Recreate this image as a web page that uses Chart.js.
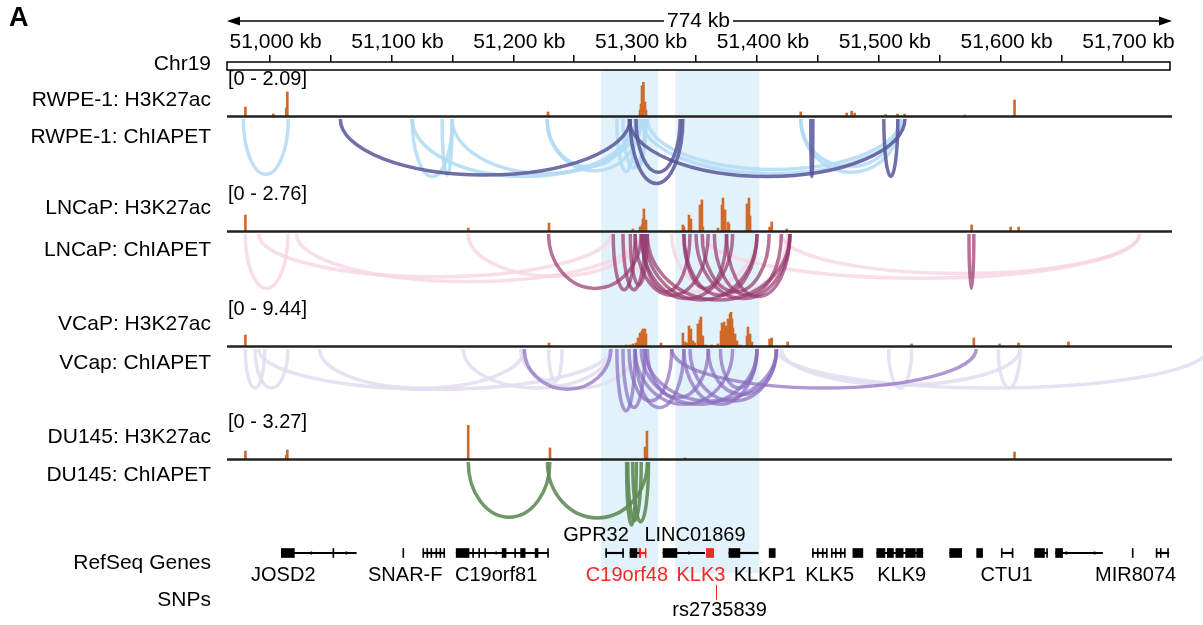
<!DOCTYPE html>
<html>
<head>
<meta charset="utf-8">
<script src="https://cdn.jsdelivr.net/npm/chart.js@4.4.1/dist/chart.umd.min.js"></script>
<style>
  html, body { margin: 0; padding: 0; background: #fff; }
  canvas { display: block; }
</style>
</head>
<body>
<canvas id="browser" width="1203" height="625"></canvas>
<script>
const FONT = "'Liberation Sans', Arial, sans-serif";

// --- genomic window (kb) ---
const XMIN = 50965, XMAX = 51739;
const TICK_KB = [51000, 51050, 51100, 51150, 51200, 51250, 51300, 51350, 51400, 51450, 51500, 51550, 51600, 51650, 51700];
const SPAN_LABEL = '774 kb';
const HIGHLIGHTS = [[51272, 51319], [51333, 51402]];

// --- H3K27ac signal, [kb, value] ---
const RANGE_MAX = [2.09, 2.76, 9.44, 3.27];
const RWPE_H3K27AC = [
  [50980.1, 0.55], [51003.0, 0.12], [51013.7, 0.5], [51014.5, 1.48], [51228.5, 0.25],
  [51304.0, 0.37], [51304.8, 0.74], [51305.6, 1.85], [51306.8, 2.09], [51308.1, 0.86], [51308.9, 0.37],
  [51435.9, 0.25], [51473.6, 0.18], [51477.7, 0.3], [51480.2, 0.18], [51505.6, 0.09],
  [51515.4, 0.12], [51521.2, 0.12], [51570.4, 0.06], [51611.4, 0.98]
];
const LNCAP_H3K27AC = [
  [50980.1, 1.3], [51163.0, 0.24], [51229.3, 0.65], [51298.2, 0.16], [51304.0, 0.32],
  [51305.6, 0.49], [51306.4, 0.97], [51307.2, 1.79], [51308.9, 0.89], [51339.2, 0.49],
  [51340.1, 0.32], [51344.2, 1.3], [51345.8, 0.97], [51353.2, 2.11], [51354.8, 2.52],
  [51355.6, 0.32], [51368.0, 0.24], [51371.3, 2.11], [51372.1, 2.68], [51373.8, 1.71],
  [51376.2, 0.73], [51377.0, 0.57], [51391.8, 2.19], [51393.4, 2.68], [51394.3, 1.22],
  [51410.4, 0.32], [51412.1, 0.73], [51424.4, 0.16], [51576.2, 0.49], [51608.2, 0.32], [51614.7, 0.32]
];
const VCAP_H3K27AC = [
  [50980.1, 3.05], [51229.3, 0.83], [51292.5, 0.28], [51295.8, 0.28], [51298.2, 0.56],
  [51300.7, 0.83], [51302.3, 2.22], [51304.0, 3.61], [51305.6, 4.16], [51306.4, 4.72],
  [51308.1, 4.72], [51308.9, 3.33], [51321.2, 0.83], [51339.2, 3.61], [51340.9, 1.11],
  [51342.5, 0.83], [51344.2, 5.55], [51345.8, 4.72], [51347.5, 1.39], [51349.1, 0.83],
  [51351.5, 6.11], [51353.2, 7.22], [51354.0, 8.05], [51355.6, 2.78], [51358.1, 0.28],
  [51363.0, 0.28], [51368.0, 0.56], [51370.5, 4.16], [51371.3, 6.38], [51373.0, 6.66],
  [51374.6, 5.55], [51376.2, 7.5], [51377.9, 8.88], [51378.7, 9.44], [51379.5, 7.5],
  [51380.3, 5.0], [51382.0, 3.33], [51383.6, 1.39], [51386.1, 0.28], [51391.8, 2.78],
  [51392.6, 5.27], [51394.3, 3.33], [51395.9, 1.11], [51410.4, 1.94], [51412.1, 2.22],
  [51425.2, 1.11], [51526.9, 0.56], [51578.0, 2.22], [51599.1, 0.56], [51614.7, 0.83], [51655.7, 1.11]
];
const DU145_H3K27AC = [
  [50980.1, 0.77], [51013.7, 0.38], [51014.5, 0.87], [51163.0, 3.27], [51230.1, 1.06],
  [51308.1, 1.15], [51309.7, 2.69], [51340.9, 0.1], [51611.4, 0.67]
];

// --- ChIA-PET loops, [startKb, endKb, depth 0..1] ---
const RWPE_LOOPS_WEAK = [
  [50978.4, 51015.3, 0.79], [51117, 51150, 0.82], [51141.6, 51149.8, 0.8], [51117, 51300.7, 0.82],
  [51149.8, 51304, 0.78], [51227.7, 51296, 0.68], [51227.7, 51305, 0.74], [51285, 51300, 0.75],
  [51290, 51308, 0.7], [51296, 51309, 0.68], [51305, 51521.4, 0.78], [51310, 51518, 0.72],
  [51436, 51518, 0.76], [51436, 51516, 0.68]
];
const RWPE_LOOPS_STRONG = [
  [51058, 51295.8, 0.8], [51295.8, 51339.2, 0.92], [51300.7, 51337, 0.76], [51295, 51521.4, 0.82],
  [51444.2, 51445.9, 0.82], [51504.1, 51515.6, 0.82]
];
const LNCAP_LOOPS_WEAK = [
  [50980, 51015, 0.8], [50991, 51280, 0.63], [51022, 51305, 0.7], [51163, 51305, 0.62],
  [51290, 51400, 0.85], [51330, 51425, 0.9], [51355, 51714, 0.65], [51420, 51714, 0.58]
];
const LNCAP_LOOPS_STRONG = [
  [51229, 51305, 0.8], [51282, 51300, 0.82], [51290, 51308, 0.82], [51296, 51310, 0.75],
  [51300, 51360, 0.9], [51305, 51380, 0.95], [51308, 51400, 0.97], [51310, 51427, 0.97],
  [51306, 51345, 0.85], [51340, 51400, 0.9], [51340, 51375, 0.8], [51350, 51427, 0.95],
  [51355, 51410, 0.85], [51365, 51420, 0.9], [51375, 51427, 0.92], [51574, 51578, 0.8]
];
const VCAP_LOOPS_WEAK = [
  [50980, 50996, 0.6], [50988, 51015, 0.6], [50991, 51280, 0.62], [51041, 51209, 0.6],
  [51159, 51280, 0.6], [51206, 51300, 0.6], [51229, 51240, 0.5], [51508, 51527, 0.6],
  [51598, 51616, 0.6], [51416, 51770, 0.6], [51420, 51616, 0.55]
];
const VCAP_LOOPS_STRONG = [
  [51209, 51280, 0.62], [51285, 51300, 0.95], [51290, 51308, 0.9], [51295, 51330, 0.8],
  [51300, 51340, 0.9], [51300, 51380, 0.85], [51305, 51400, 0.85], [51308, 51416, 0.8],
  [51310, 51360, 0.75], [51340, 51400, 0.85], [51345, 51416, 0.8], [51360, 51416, 0.7],
  [51370, 51400, 0.6], [51330, 51580, 0.6]
];
const DU145_LOOPS = [
  [51163, 51230, 0.85], [51228, 51310, 0.86], [51293, 51301, 0.97], [51294, 51305, 0.9], [51298, 51311, 0.92]
];

// --- RefSeq genes (kb) ---
const GENE_LINES = [
  [51009.6, 51071.1], [51126.0, 51143.3], [51153.1, 51228.5], [51276.0, 51290.1], [51295.8, 51303.2],
  [51322.9, 51357.0], [51377.0, 51401.0], [51445.8, 51457.3], [51461.4, 51472.1], [51498.3, 51536.1],
  [51558.2, 51568.0], [51600.8, 51609.8], [51627.9, 51638.5], [51645.1, 51683.6], [51727.9, 51738.0]
];
const GENE_EXONS = [
  [51009.6, 51020.3], [51051.9, 51052.7], [51109.3, 51110.1], [51125.7, 51126.5], [51129.0, 51129.8],
  [51132.3, 51133.1], [51136.4, 51137.2], [51139.7, 51140.5], [51142.9, 51143.7], [51153.1, 51163.7],
  [51166.6, 51167.4], [51171.6, 51172.4], [51176.5, 51177.3], [51190.8, 51194.1], [51201.1, 51201.9],
  [51206.0, 51209.7], [51217.9, 51220.3], [51228.1, 51228.9], [51275.8, 51276.6], [51289.7, 51290.5],
  [51295.8, 51301.5], [51322.9, 51334.3], [51377.0, 51386.0], [51410.0, 51415.0], [51445.5, 51446.3],
  [51449.5, 51450.3], [51453.6, 51454.4], [51456.9, 51457.7], [51461.0, 51461.8], [51464.3, 51465.1],
  [51468.4, 51469.2], [51471.7, 51472.5], [51478.7, 51486.9], [51498.3, 51505.0], [51507.0, 51512.0],
  [51514.0, 51520.0], [51522.0, 51530.0], [51531.0, 51536.1], [51558.2, 51568.0], [51580.3, 51585.2],
  [51600.5, 51601.3], [51609.4, 51610.2], [51627.9, 51636.0], [51637.7, 51638.5], [51645.1, 51650.8],
  [51708.0, 51708.8], [51727.6, 51728.4], [51731.0, 51731.8], [51737.0, 51737.8]
];
const GENE_LINES_RED = [[51304.6, 51308.9]];
const GENE_EXONS_RED = [[51303.2, 51304.6], [51308.3, 51309.0], [51358.5, 51364.5]];
const GENE_UTR = [[51033.8, 51034.6], [51062.5, 51063.3], [51185.5, 51186.3], [51343.8, 51344.6], [51653.7, 51654.5], [51676.7, 51677.5]];
const GENE_NAMES = ['JOSD2', 'SNAR-F', 'C19orf81', 'C19orf48', 'KLK3', 'KLKP1', 'KLK5', 'KLK9', 'CTU1', 'MIR8074'];
const GENE_NAME_KB = [51011.2, 51111.3, 51185.9, 51293.3, 51354.0, 51406.4, 51459.7, 51518.8, 51604.9, 51710.8];
const GENE_NAMES_RED = ['C19orf48', 'KLK3'];
const UPPER_NAMES = ['GPR32', 'LINC01869'];
const UPPER_NAME_KB = [51267.9, 51349.1];
const SNP_NAMES = ['rs2735839'];
const SNP_KB = [51366.3];

const TRACK_LABELS = ['Chr19', 'RWPE-1: H3K27ac', 'RWPE-1: ChIAPET', 'LNCaP: H3K27ac', 'LNCaP: ChIAPET',
  'VCaP: H3K27ac', 'VCap: ChIAPET', 'DU145: H3K27ac', 'DU145: ChIAPET', 'RefSeq Genes', 'SNPs'];

// layout: vertical slots of the stacked y axes, [id, height px]
const SLOTS = [['ruler', 8], ['g1', 12], ['rwSig', 34], ['g2', 3], ['rwLoop', 70], ['g3', 8],
  ['lnSig', 34], ['g4', 3], ['lnLoop', 68], ['g5', 10], ['vcSig', 34], ['g6', 3], ['vcLoop', 65],
  ['g7', 11], ['duSig', 34], ['g8', 3], ['duLoop', 65], ['g9', 21], ['genes', 10], ['rest', 67]];
const SIG_AXES = ['rwSig', 'lnSig', 'vcSig', 'duSig'];
const LABEL_Y = [64, 100, 137, 208, 250, 324, 363, 437, 475, 563, 600];
const PEAK_COLOR = '#cf6a28';

const LOOP_TRACKS = [
  { axis: 'rwLoop', sets: [[RWPE_LOOPS_WEAK, 'rgba(178,219,245,0.85)'], [RWPE_LOOPS_STRONG, 'rgba(88,86,152,0.85)']] },
  { axis: 'lnLoop', sets: [[LNCAP_LOOPS_WEAK, 'rgba(246,214,227,0.8)'], [LNCAP_LOOPS_STRONG, 'rgba(150,55,108,0.7)']] },
  { axis: 'vcLoop', sets: [[VCAP_LOOPS_WEAK, 'rgba(226,221,240,0.85)'], [VCAP_LOOPS_STRONG, 'rgba(138,108,190,0.7)']] },
  { axis: 'duLoop', sets: [[DU145_LOOPS, 'rgba(96,140,86,0.9)']] }
];

const scales = {
  x: {
    type: 'linear', position: 'top', min: XMIN, max: XMAX, offset: false,
    afterFit: s => { s.height = 62; },
    afterBuildTicks: s => { s.ticks = TICK_KB.map(v => ({ value: v })); },
    grid: { drawOnChartArea: false, offset: false, tickLength: 7, color: '#000', lineWidth: 1.5 },
    border: { display: false },
    ticks: {
      autoSkip: false, maxRotation: 0, padding: 0, labelOffset: 6, color: '#000',
      font: { family: FONT, size: 21 },
      callback: v => (v % 100 === 0 ? v.toLocaleString('en-US') + ' kb' : '')
    }
  }
};
SLOTS.forEach(([id, h], i) => {
  const sig = SIG_AXES.indexOf(id);
  scales[id] = {
    type: 'linear', display: false, position: 'left', stack: 'tracks', stackWeight: h, weight: 100 - i,
    min: 0, max: sig >= 0 ? RANGE_MAX[sig] : 1, reverse: id.endsWith('Loop')
  };
});

function peakSet(arr, axis) {
  return { type: 'bar', yAxisID: axis, grouped: false, barThickness: 2, backgroundColor: PEAK_COLOR,
    data: arr.map(([kb, v]) => ({ x: kb, y: v })) };
}
function geneSet(arr, thick, color) {
  return { type: 'bar', indexAxis: 'y', yAxisID: 'genes', grouped: false, barThickness: thick,
    backgroundColor: color, data: arr.map(([s, e]) => ({ x: [s, e], y: 0.5 })) };
}

function label(ctx, str, px, py, align, color, size, weight) {
  ctx.font = (weight || 'normal') + ' ' + size + 'px ' + FONT;
  ctx.fillStyle = color;
  ctx.textAlign = align;
  ctx.textBaseline = 'middle';
  ctx.fillText(str, px, py);
}

const trackPlugin = {
  id: 'tracks',
  beforeDatasetsDraw(chart) {
    const { ctx, chartArea: area, scales: s } = chart;
    const x = s.x;
    ctx.save();
    // highlighted regions
    const top = s.ruler.bottom, bottom = s.genes.bottom + 15;
    ctx.fillStyle = '#e2f2fb';
    HIGHLIGHTS.forEach(([a, b]) => {
      const pa = x.getPixelForValue(a), pb = x.getPixelForValue(b);
      ctx.fillRect(pa, top, pb - pa, bottom - top);
    });
    // chromosome ruler box
    ctx.strokeStyle = '#000';
    ctx.lineWidth = 1.5;
    ctx.strokeRect(area.left, s.ruler.top, area.right - area.left, s.ruler.bottom - s.ruler.top);
    // loops as half ellipses
    LOOP_TRACKS.forEach(t => {
      const y = s[t.axis];
      const y0 = y.getPixelForValue(0);
      t.sets.forEach(([arcs, color]) => {
        ctx.strokeStyle = color;
        ctx.lineWidth = 3.5;
        arcs.forEach(([a, b, d]) => {
          const pa = x.getPixelForValue(a), pb = x.getPixelForValue(b);
          ctx.beginPath();
          ctx.ellipse((pa + pb) / 2, y0, Math.max(Math.abs(pb - pa) / 2, 0.5), y.getPixelForValue(d) - y0, 0, 0, Math.PI);
          ctx.stroke();
        });
      });
    });
    ctx.restore();
  },
  afterDatasetsDraw(chart) {
    const { ctx, chartArea: area, scales: s } = chart;
    ctx.save();
    ctx.strokeStyle = '#222';
    ctx.lineWidth = 2.5;
    SIG_AXES.forEach(id => {
      const y = Math.round(s[id].getPixelForValue(0)) + 0.5;
      ctx.beginPath();
      ctx.moveTo(area.left, y);
      ctx.lineTo(area.right + 2, y);
      ctx.stroke();
    });
    ctx.restore();
  },
  afterDraw(chart) {
    const { ctx, chartArea: area, scales: s } = chart;
    const x = s.x;
    ctx.save();
    label(ctx, 'A', 9, 19, 'left', '#000', 27, 'bold');
    // span arrow
    const ay = 21, L = x.getPixelForValue(XMIN), R = x.getPixelForValue(XMAX) + 2;
    ctx.strokeStyle = '#000';
    ctx.fillStyle = '#000';
    ctx.lineWidth = 1.5;
    ctx.beginPath(); ctx.moveTo(L + 4, ay); ctx.lineTo(R - 4, ay); ctx.stroke();
    ctx.beginPath(); ctx.moveTo(L, ay); ctx.lineTo(L + 13, ay - 4.5); ctx.lineTo(L + 13, ay + 4.5); ctx.fill();
    ctx.beginPath(); ctx.moveTo(R, ay); ctx.lineTo(R - 13, ay - 4.5); ctx.lineTo(R - 13, ay + 4.5); ctx.fill();
    ctx.font = '21px ' + FONT;
    const mid = (L + R) / 2 - 1, w = ctx.measureText(SPAN_LABEL).width;
    ctx.fillStyle = '#fff';
    ctx.fillRect(mid - w / 2 - 3, ay - 10, w + 6, 20);
    label(ctx, SPAN_LABEL, mid, ay, 'center', '#000', 21);
    // track names
    TRACK_LABELS.forEach((t, i) => label(ctx, t, 211, LABEL_Y[i], 'right', '#000', 21));
    // data ranges
    SIG_AXES.forEach((id, i) => label(ctx, '[0 - ' + RANGE_MAX[i].toFixed(2) + ']', area.left + 1, s[id].top - 3, 'left', '#000', 20));
    // gene names
    const gy = s.genes.getPixelForValue(0.5);
    GENE_NAMES.forEach((g, i) => label(ctx, g, x.getPixelForValue(GENE_NAME_KB[i]), gy + 22, 'center',
      GENE_NAMES_RED.includes(g) ? '#ee2a24' : '#000', 20));
    UPPER_NAMES.forEach((g, i) => label(ctx, g, x.getPixelForValue(UPPER_NAME_KB[i]), gy - 18, 'center', '#000', 20));
    // SNPs
    SNP_NAMES.forEach((n, i) => {
      const px = Math.round(x.getPixelForValue(SNP_KB[i])) + 0.5;
      ctx.strokeStyle = '#ee2a24';
      ctx.lineWidth = 1;
      ctx.beginPath(); ctx.moveTo(px, gy + 32); ctx.lineTo(px, gy + 47); ctx.stroke();
      label(ctx, n, px + 3, gy + 57, 'center', '#000', 20);
    });
    ctx.restore();
  }
};

new Chart(document.getElementById('browser'), {
  type: 'bar',
  data: {
    datasets: [
      peakSet(RWPE_H3K27AC, 'rwSig'),
      peakSet(LNCAP_H3K27AC, 'lnSig'),
      peakSet(VCAP_H3K27AC, 'vcSig'),
      peakSet(DU145_H3K27AC, 'duSig'),
      geneSet(GENE_LINES, 1.5, '#000'),
      geneSet(GENE_EXONS, 9, '#000'),
      geneSet(GENE_LINES_RED, 1.5, '#ee2a24'),
      geneSet(GENE_EXONS_RED, 9, '#ee2a24'),
      geneSet(GENE_UTR, 3, '#3b4fc4')
    ]
  },
  options: {
    responsive: false,
    animation: false,
    events: [],
    layout: { padding: { left: 227, right: 33, top: 0, bottom: 0 } },
    plugins: { legend: { display: false }, tooltip: { enabled: false } },
    scales
  },
  plugins: [trackPlugin]
});
</script>
</body>
</html>
